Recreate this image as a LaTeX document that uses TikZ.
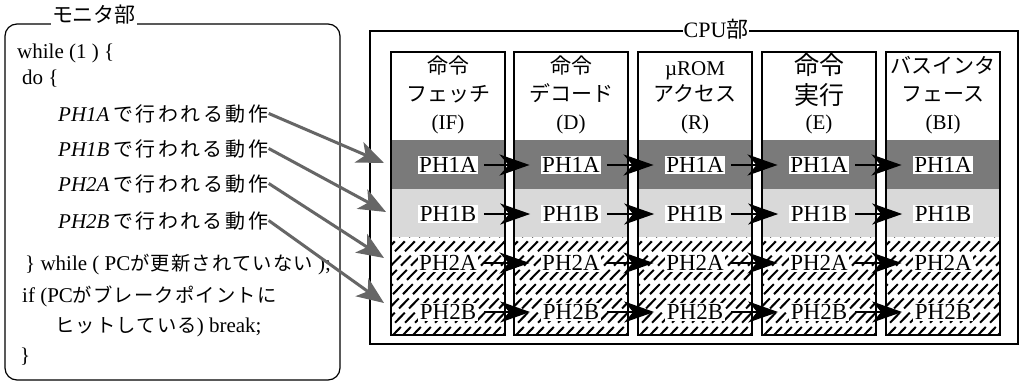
\documentclass[tikz,border=0pt]{standalone}
\usepackage{fontspec}
\setmainfont{Liberation Serif}
\newfontfamily\jp{Noto Sans CJK JP}
\newfontfamily\jpw{Noto Sans CJK JP}[Scale=0.92,LetterSpace=6]
\newfontfamily\jpww{Noto Sans CJK JP}[Scale=0.95,LetterSpace=14]
\usetikzlibrary{arrows.meta}
\tikzset{
  mtext/.style={anchor=base west, inner sep=0pt, font=\fontsize{21}{24}\selectfont},
  ptext/.style={anchor=base west, inner sep=0pt, font=\fontsize{21}{24}\selectfont},
  htext/.style={anchor=base, inner sep=0pt, font=\fontsize{21}{24}\selectfont},
  btext/.style={anchor=base, inner sep=0pt, font=\fontsize{25}{28}\selectfont},
  lab/.style={fill=white, inner sep=1.5pt, font=\fontsize{23}{26}\selectfont},
  ttl/.style={fill=white, inner sep=1pt},
  garrow/.style={draw=black!60, line width=3pt, -{Stealth[length=27pt,width=22pt,inset=7pt,fill=black!60]}},
  barrow/.style={draw=black, line width=2.4pt, shorten <=6pt, shorten >=11pt, -{Stealth[length=30pt,width=21pt,inset=9pt]}},
  hatch/.style={line width=2pt, dash pattern=on 14pt off 6pt},
  stagebox/.style={line width=2.2pt}
}
\begin{document}
\begin{tikzpicture}[x=1pt,y=-1pt]
\useasboundingbox[fill=white] (0,0) rectangle (1021,383);

% ---------------- monitor part ----------------
\draw[line width=1.2pt, rounded corners=12pt] (5,24) rectangle (340,380);
\node[ttl, font=\fontsize{21}{24}\selectfont\jp] (mtitle) at (94,15) {モニタ部};

\node[mtext] (w1) at (17,58) {while (1 ) \{};
\node[mtext] (w2) at (22,84) {do \{};
\node[ptext] (m1) at (58,121) {\textit{PH1A}\,{\jpww で行われる動作}};
\node[ptext] (m2) at (58,156) {\textit{PH1B}\,{\jpww で行われる動作}};
\node[ptext] (m3) at (58,191) {\textit{PH2A}\,{\jpww で行われる動作}};
\node[ptext] (m4) at (58,228) {\textit{PH2B}\,{\jpww で行われる動作}};
\node[mtext] (w3) at (25,270) {\} while ( PC{\jpw が更新されていない} );};
\node[mtext] (w4) at (22,302) {if (PC{\jpw がブレークポイントに}};
\node[mtext] (w5) at (55,332) {{\jpw ヒットしている}) break;};
\node[mtext] (w6) at (20,362) {\}};

% ---------------- CPU part ----------------
\draw[line width=1.8pt] (370,31) rectangle (1018,344);
\node[ttl, font=\fontsize{22}{24}\selectfont] (ctitle) at (716,29) {CPU{\jp 部}};

\foreach \i/\x in {0/391,1/514,2/638,3/762,4/886}{
  \fill[black!52] (\x,140) rectangle ({\x+114},189);
  \fill[black!15] (\x,189) rectangle ({\x+114},237);
  \begin{scope}
    \clip (\x,237) rectangle ({\x+114},335);
    \foreach \k in {-110,-100,...,120}
      \draw[hatch] ({\x+\k},337) -- ({\x+\k+100},235);
  \end{scope}
  \draw[stagebox] (\x,52) rectangle ({\x+114},335);
  \node[lab] (p\i-1) at ({\x+57},165) {PH1A};
  \node[lab] (p\i-2) at ({\x+57},214) {PH1B};
  \node[lab] (p\i-3) at ({\x+57},263) {PH2A};
  \node[lab] (p\i-4) at ({\x+57},312) {PH2B};
}

% headers
\node[htext] (h0a) at (448,73) {\jp 命令};
\node[htext] (h0b) at (448,101) {\jp フェッチ};
\node[htext] (h0c) at (448,129) {(IF)};
\node[htext] (h1a) at (571,73) {\jp 命令};
\node[htext] (h1b) at (571,101) {\jp デコード};
\node[htext] (h1c) at (571,129) {(D)};
\node[htext] (h2a) at (695,75) {µROM};
\node[htext] (h2b) at (695,101) {\jp アクセス};
\node[htext] (h2c) at (695,129) {(R)};
\node[btext] (h3a) at (819,74) {\jp 命令};
\node[btext] (h3b) at (819,104) {\jp 実行};
\node[htext] (h3c) at (819,129) {(E)};
\node[htext] (h4a) at (943,73) {\jp バスインタ};
\node[htext] (h4b) at (943,101) {\jp フェース};
\node[htext] (h4c) at (943,129) {(BI)};

% stage arrows
\foreach \i in {0,...,3}{
  \pgfmathtruncatemacro{\j}{\i+1}
  \foreach \r in {1,...,4}
    \draw[barrow] (p\i-\r.east) -- (p\j-\r.west);
}

% monitor arrows
\coordinate (t1) at (384,163);
\coordinate (t2) at (386,212);
\coordinate (t3) at (384,258);
\coordinate (t4) at (384,303);
\draw[garrow] (m1.east) -- (t1);
\draw[garrow] (m2.east) -- (t2);
\draw[garrow] (m3.east) -- (t3);
\draw[garrow] (m4.east) -- (t4);
\end{tikzpicture}
\end{document}
